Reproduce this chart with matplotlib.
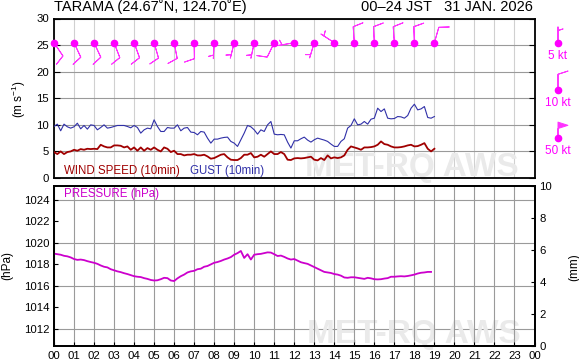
import numpy as np
import matplotlib
matplotlib.use("Agg")
import matplotlib.pyplot as plt

plt.rcParams["font.family"] = ["Liberation Sans", "DejaVu Sans"]
plt.rcParams["mathtext.default"] = "regular"

# 10-min wind speed / gust (m/s), 00:00 - 19:00 JST
wind_speed = [
    4.88, 4.5, 5.0, 4.5, 4.88, 5.0,
    5.31, 5.13, 5.44, 5.31, 5.5, 5.44,
    5.5, 5.44, 6.25, 5.94, 5.75, 5.75,
    6.13, 6.13, 6.06, 5.75, 5.94, 5.31,
    5.75, 5.13, 5.75, 5.13, 5.63, 5.31,
    5.75, 5.31, 5.0, 5.75, 5.5, 4.88,
    5.13, 4.5, 4.5, 4.25, 4.38, 4.38,
    4.5, 4.25, 4.25, 4.38, 4.06, 3.63,
    3.75, 4.06, 4.38, 4.5, 3.88, 3.44,
    3.38, 3.38, 3.75,
    4.38, 4.38, 4.69, 3.88, 4.0, 4.38, 4.0, 4.5, 5.0, 4.5,
    4.5, 4.88, 4.5, 3.44, 3.38, 3.69, 3.75, 3.69, 3.75, 3.88,
    4.0, 3.44, 3.31, 3.75, 3.38, 4.25, 3.69, 3.88, 3.75, 3.88,
    4.25, 5.31, 5.94, 5.75, 5.56, 5.31, 5.75, 5.75, 5.81, 5.94,
    6.25, 6.88, 6.38, 6.25, 5.94, 5.75, 5.75, 5.81, 5.94, 6.13,
    6.25, 5.94, 6.0, 6.25, 6.56, 5.5, 5.0, 5.5,
]
gust = [
    9.69, 10.13, 8.88, 10.13, 9.63, 9.38,
    9.63, 10.31, 9.25, 9.88, 9.19, 10.0,
    9.88, 9.06, 9.5, 10.0, 9.38, 9.5,
    9.69, 9.88, 9.88, 9.88, 9.69, 9.44,
    9.88, 9.5, 8.44, 9.06, 9.38, 9.25,
    10.94, 9.69, 8.75, 8.75, 9.5, 9.38,
    9.38, 10.0, 8.88, 9.38, 9.5, 8.63,
    8.56, 8.13, 8.75, 8.63, 7.5, 6.56,
    7.31, 7.31, 7.5, 7.63, 7.69, 6.88,
    6.56, 5.94, 7.19,
    8.44, 9.88, 9.63, 9.06, 8.25, 9.06, 8.75, 10.0, 10.63, 8.25,
    8.13, 8.19, 8.13, 6.75, 5.63, 7.0, 7.0, 7.38, 7.69, 7.13,
    6.75, 7.19, 7.5, 7.31, 7.13, 6.88, 6.38, 5.94, 5.94, 6.88,
    7.38, 9.38, 9.88, 11.13, 10.0, 10.13, 10.63, 10.13, 11.06, 11.25,
    13.13, 12.5, 13.0, 11.25, 11.13, 11.19, 11.56, 11.5, 11.25, 11.75,
    13.13, 13.88, 12.81, 13.0, 13.44, 11.38, 11.25, 11.56,
]

# station pressure (hPa), 10-min, 00:00 - 18:50
pressure = [
    1019.0, 1018.95, 1018.9, 1018.8, 1018.75, 1018.65,
    1018.5, 1018.42, 1018.45, 1018.4, 1018.3, 1018.22,
    1018.15, 1018.05, 1017.9, 1017.78, 1017.72, 1017.55,
    1017.45, 1017.35, 1017.28, 1017.18, 1017.1, 1017.0,
    1016.9, 1016.85, 1016.82, 1016.72, 1016.65, 1016.55,
    1016.5, 1016.52, 1016.62, 1016.75, 1016.72, 1016.5,
    1016.45, 1016.7, 1016.9, 1017.05, 1017.25, 1017.35,
    1017.4, 1017.55, 1017.6, 1017.78, 1017.85, 1018.0,
    1018.15, 1018.22, 1018.32, 1018.45, 1018.55, 1018.68,
    1018.9, 1019.05, 1019.25, 1018.6, 1018.95, 1018.45,
    1018.9, 1018.95, 1018.98, 1019.05, 1019.12, 1019.1,
    1018.95, 1018.78, 1018.82, 1018.7, 1018.55, 1018.45,
    1018.5, 1018.35, 1018.2, 1018.12, 1018.05, 1017.9,
    1017.75, 1017.6, 1017.45, 1017.3, 1017.25, 1017.2,
    1017.1, 1017.05, 1016.95, 1016.78, 1016.75, 1016.8,
    1016.8, 1016.75, 1016.7, 1016.65, 1016.75, 1016.7,
    1016.62, 1016.6, 1016.62, 1016.68, 1016.72, 1016.85,
    1016.85, 1016.88, 1016.9, 1016.88, 1016.92, 1016.98,
    1017.05, 1017.15, 1017.22, 1017.25, 1017.3, 1017.3,
]

# hourly wind barbs: direction (deg) and speed (kt)
barb_hours = list(range(20))
barb_dir = [146, 155, 155, 159, 160, 164, 169, 179, 183, 194,
            192, 206, 260, 197, 303, 356, 357, 356, 358, 16]
barb_kt = [10, 10, 10, 10, 10, 10, 10, 10, 5, 5,
           5, 10, 5, 5, 5, 10, 10, 10, 10, 10]

legend_kt = [5, 10, 50]
legend_labels = ["5 kt", "10 kt", "50 kt"]

hour_labels = [f"{h % 24:02d}" for h in range(25)]

MAG = "#ff00ff"
BARB_C = "#ff33ff"
W, H = 579, 362
BARB_LEN = 4.8
BARB_SIZES = dict(height=0.62, width=0.4, spacing=0.15)

t_wind = np.arange(len(wind_speed)) / 6.0
t_pres = np.arange(len(pressure)) / 6.0

fig = plt.figure(figsize=(W / 100, H / 100), dpi=100)
L, R = 54 / W, 534.5 / W
ax1 = fig.add_axes([L, 1 - 178 / H, R - L, 159.5 / H])
ax2 = fig.add_axes([L, 1 - 346 / H, R - L, 160 / H])
ax2r = ax2.twinx()
lax = fig.add_axes([538 / W, 1 - 178 / H, 40 / W, 159.5 / H])

# ---- wind panel
ax1.set_xlim(0, 24)
ax1.set_ylim(0, 30)
ax1.set_yticks(range(0, 31, 5))
ax1.set_xticks(range(25))
ax1.tick_params(axis="x", length=0, labelbottom=False)
ax1.tick_params(axis="y", direction="in", length=4, right=True, labelsize=8.2)
ax1.grid(axis="x", color="#d0d0d0", lw=0.8)
ax1.grid(axis="y", color="#9a9a9a", lw=0.8)
ax1.set_axisbelow(True)

ax1.plot(t_wind, gust, color="#3030a8", lw=0.8, zorder=3)
ax1.plot(t_wind, wind_speed, color="#a00000", lw=1.3, zorder=3)
ax1.text(0.5, 1.3, "WIND SPEED (10min)", color="#a00000", fontsize=8.3, va="center")
ax1.text(6.8, 1.3, "GUST (10min)", color="#3030a8", fontsize=8.3, va="center")
ax1.text(0.522, 0.012, "MET-RQ AWS", transform=ax1.transAxes, fontsize=24,
         fontweight="bold", color="#eaeaea", va="baseline", zorder=1)

rad = np.deg2rad(barb_dir)
u = -np.array(barb_kt) * np.sin(rad)
v = -np.array(barb_kt) * np.cos(rad)
ypos = np.full(len(barb_hours), 25.45)
ax1.barbs(barb_hours, ypos, u, v, length=BARB_LEN, pivot="tip", color=BARB_C,
          linewidth=0.7, sizes=BARB_SIZES, zorder=4, clip_on=False)
ax1.plot(barb_hours, ypos, "o", color=MAG, ms=4.5, zorder=5, clip_on=False)

# barb legend
lax.set_xlim(0, 1)
lax.set_ylim(0, 30)
lax.axis("off")
ly = [25.4, 16.5, 7.5]
lax.barbs([0.5] * 3, ly, [0] * 3, [-k for k in legend_kt], length=BARB_LEN,
          pivot="tip", color=BARB_C, linewidth=0.7, sizes=BARB_SIZES)
lax.plot([0.5] * 3, ly, "o", color=MAG, ms=4.5)
for y, lab in zip(ly, legend_labels):
    lax.text(0.5, y - 2.4, lab, color=MAG, fontsize=8.5, ha="center", va="center")

# ---- pressure panel
ax2.set_xlim(0, 24)
ax2.set_ylim(1010.4, 1025.3)
ax2.set_yticks(range(1012, 1025, 2))
ax2.set_xticks(range(25))
ax2.set_xticklabels(hour_labels)
ax2.tick_params(axis="both", direction="in", length=3, labelsize=8.2)
ax2.grid(axis="x", color="#9a9a9a", lw=0.8)
for p in (1012, 1016, 1020, 1024):
    ax2.axhline(p, color="#9a9a9a", lw=0.8, zorder=0.5)
ax2.plot(t_pres, pressure, color="#cc00cc", lw=1.3, zorder=3)
ax2.text(0.5, 1024.55, "PRESSURE (hPa)", color="#cc00cc", fontsize=8.3, va="center")
ax2.text(0.527, 0.019, "MET-RQ AWS", transform=ax2.transAxes, fontsize=24,
         fontweight="bold", color="#eaeaea", va="baseline", zorder=1)

ax2r.set_ylim(0, 10)
ax2r.set_yticks(range(0, 11, 2))
ax2r.tick_params(direction="in", length=3, labelsize=8.2)

for a in (ax1, ax2, ax2r):
    for s in a.spines.values():
        s.set_linewidth(1.3)

fig.text(L, 1 - 7 / H, "TARAMA (24.67˚N, 124.70˚E)", fontsize=10.5, va="center")
fig.text(533 / W, 1 - 7 / H, "00\u201324 JST   31 JAN. 2026", fontsize=10.5,
         va="center", ha="right")
fig.text(18.5 / W, 1 - 99 / H, "(m s$^{-1}$)", rotation=90, fontsize=8.5,
         va="center", ha="center")
fig.text(7 / W, 1 - 266 / H, "(hPa)", rotation=90, fontsize=8.5,
         va="center", ha="center")
fig.text(574 / W, 1 - 267 / H, "(mm)", rotation=90, fontsize=8.5,
         va="center", ha="center")

fig.savefig("out.png", dpi=100)
